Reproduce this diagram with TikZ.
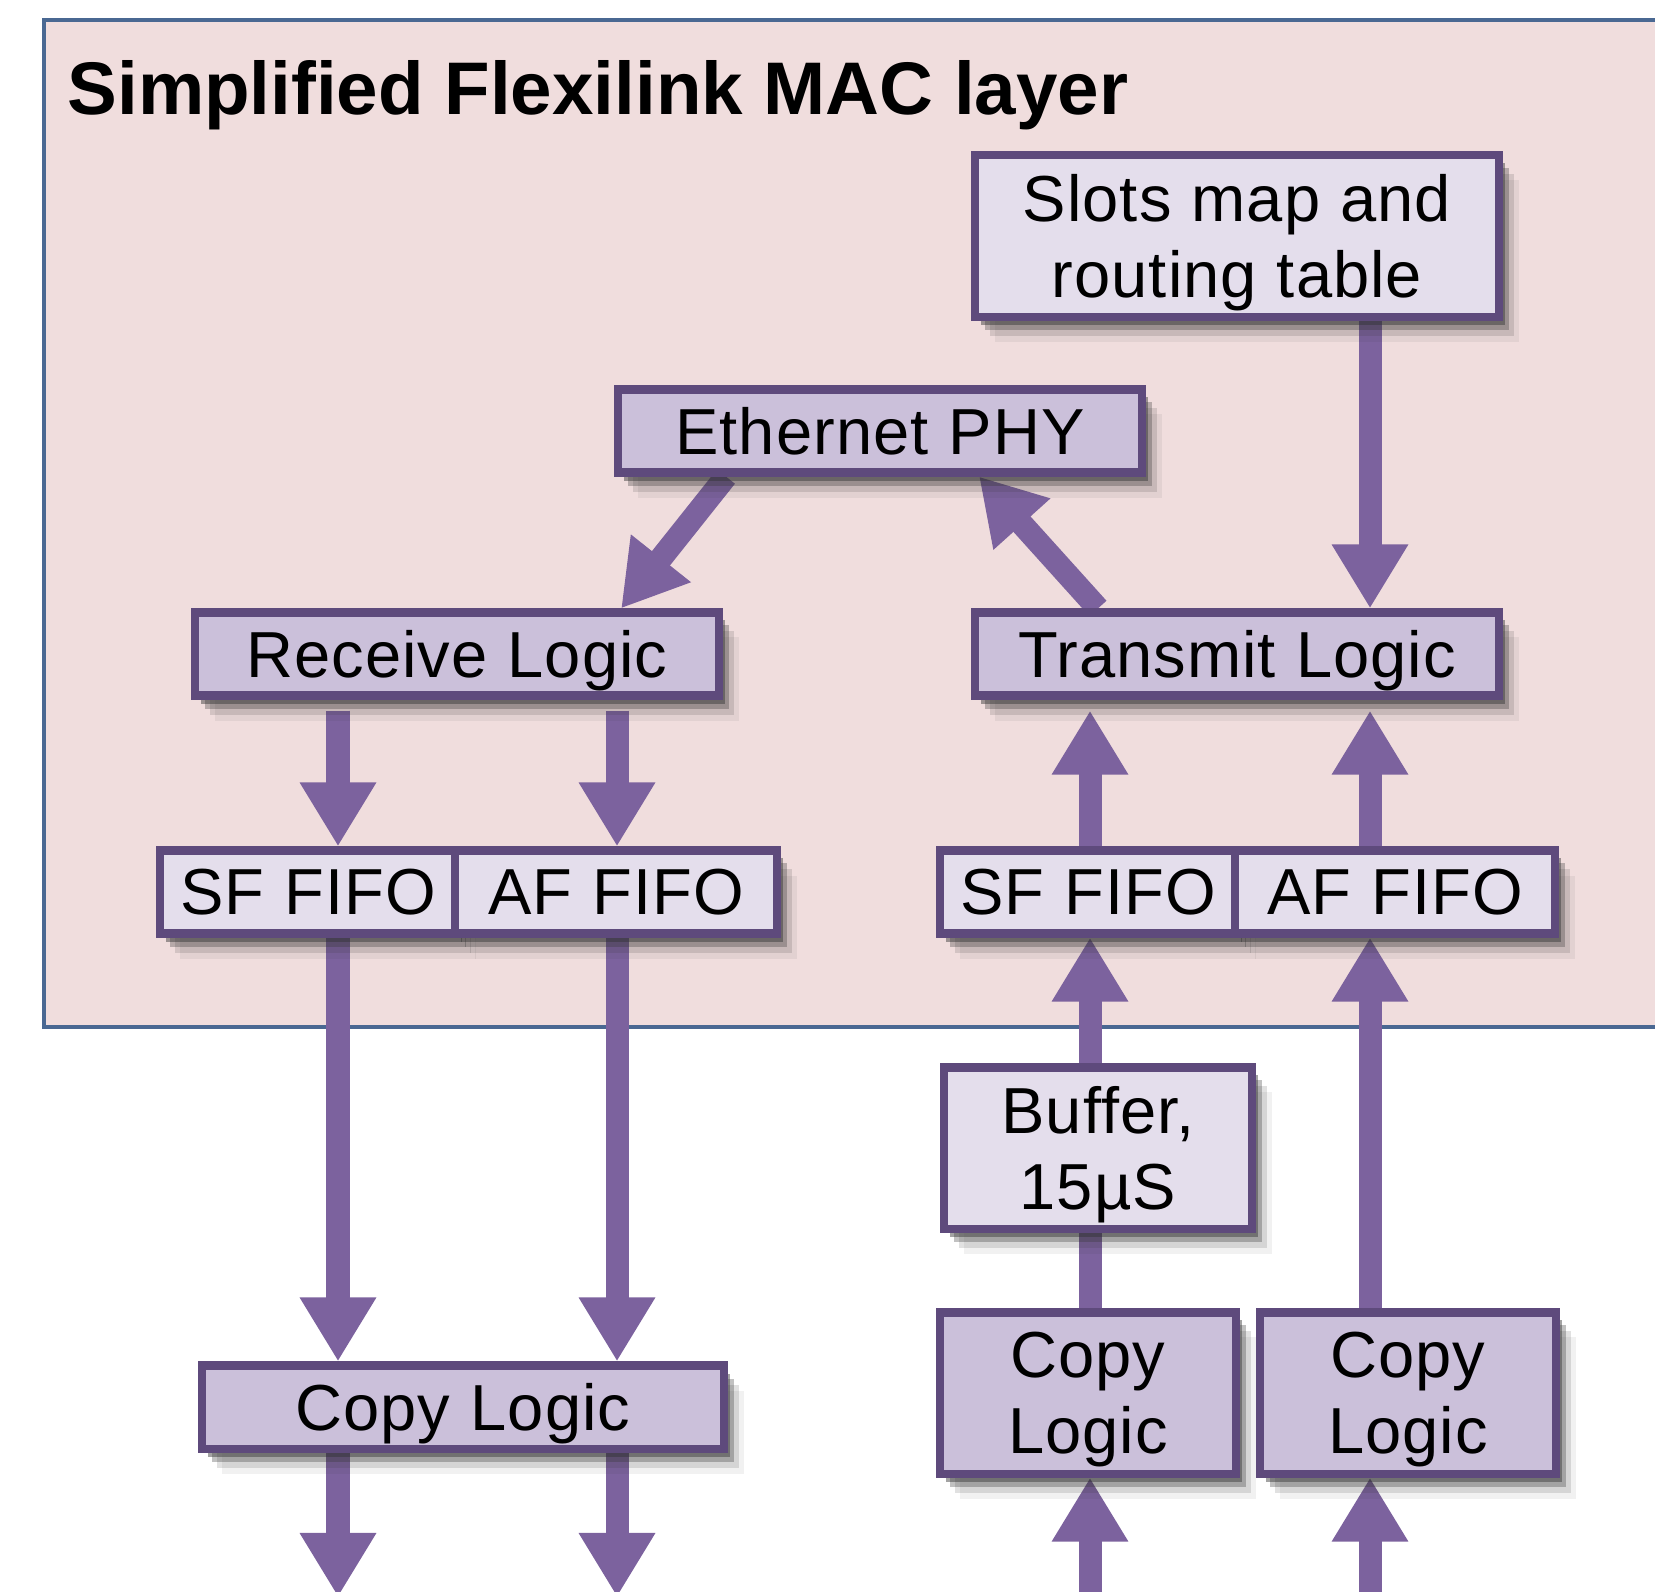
\documentclass[tikz,border=0pt]{standalone}
\usepackage{fontspec}
\setmainfont{Liberation Sans}
\newfontfamily\boxfont[LetterSpace=1.6,WordSpace=1.05]{Liberation Sans}
\usetikzlibrary{arrows.meta,shadows,backgrounds}

\definecolor{layerpink}{RGB}{240,221,221}
\definecolor{frameblue}{RGB}{74,104,146}
\definecolor{boxline}{RGB}{94,74,124}
\definecolor{flowcol}{RGB}{124,98,158}
\definecolor{lightfill}{RGB}{228,222,236}
\definecolor{midfill}{RGB}{203,192,218}

\tikzset{
  boxshadow/.style={
    drop shadow={shadow xshift=0.06cm,shadow yshift=-0.08cm,opacity=0.45,fill=black!80},
    drop shadow={shadow xshift=0.1cm,shadow yshift=-0.13cm,opacity=0.3,fill=black!80},
    drop shadow={shadow xshift=0.15cm,shadow yshift=-0.19cm,opacity=0.15,fill=black!80},
    drop shadow={shadow xshift=0.2cm,shadow yshift=-0.25cm,opacity=0.07,fill=black!80}},
  block/.style={draw=boxline,line width=2.3pt,align=center,inner sep=0pt,text depth=0pt,
    font=\boxfont\fontsize{18.5}{21.6}\selectfont,minimum width=5.23cm,minimum height=0.83cm,boxshadow},
  lightblock/.style={block,fill=lightfill},
  darkblock/.style={block,fill=midfill},
  flow/.style={draw=flowcol,line width=0.23cm,-{Triangle[width=0.72cm,length=0.64cm]}},
  link/.style={draw=flowcol,line width=0.23cm}
}

\begin{document}
\begin{tikzpicture}[x=0.01cm,y=-0.01cm]
\useasboundingbox (0,0) rectangle (1655,1591);
\coordinate (c1) at (338,0);
\coordinate (c2) at (617,0);
\coordinate (c3) at (1090,0);
\coordinate (c4) at (1370,0);
\coordinate (outA) at (338,1597);
\coordinate (outB) at (617,1597);
\coordinate (inA) at (1090,1600);
\coordinate (inB) at (1370,1600);

\node[anchor=base west,inner sep=0pt,font=\fontsize{21.2}{25}\selectfont\bfseries] (title) at (67,115) {Simplified Flexilink MAC layer};

\node[lightblock,minimum height=1.61cm] (slots) at (1237,236) {Slots map and\\routing table};% Top right
\node[darkblock] (phy) at (880,431) {Ethernet PHY};
\node[darkblock] (recv) at (457,654) {Receive Logic};
\node[darkblock] (xmit) at (1237,654) {Transmit Logic};
\node[lightblock,minimum width=2.96cm] (sfL) at (308,892) {SF FIFO};% Receive side
\node[lightblock,minimum width=3.21cm] (afL) at (616,892) {AF FIFO};
\node[lightblock,minimum width=2.95cm] (sfR) at (1088,892) {SF FIFO};% Transmit side
\node[lightblock,minimum width=3.20cm] (afR) at (1395,892) {AF FIFO};
\node[lightblock,minimum width=3.08cm,minimum height=1.61cm] (buf) at (1098,1148) {Buffer,\\15µS};
\node[darkblock,minimum width=5.22cm] (copyL) at (463,1407) {Copy Logic};
\node[darkblock,minimum width=2.96cm,minimum height=1.61cm] (copyA) at (1088,1393) {Copy\\Logic};
\node[darkblock,minimum width=2.95cm,minimum height=1.61cm] (copyB) at (1408,1393) {Copy\\Logic};

\begin{scope}[on background layer]
\fill[layerpink] (44,20) rectangle (1700,1027);% MAC layer area
\draw[frameblue,line width=1.2pt] (1700,20) -- (44,20) -- (44,1027) -- (1700,1027);
\draw[flow] ([xshift=-1.54cm]phy.south) -- ([xshift=1.64cm]recv.north);
\draw[flow] ([xshift=-1.39cm]xmit.north) -- ([xshift=0.99cm]phy.south);
\draw[flow] (slots.south -| c4) -- (xmit.north -| c4);
\draw[flow,shorten <=0.11cm] (recv.south -| c1) -- (sfL.north -| c1);
\draw[flow,shorten <=0.11cm] (recv.south -| c2) -- (afL.north -| c2);
\draw[flow] (sfL.south -| c1) -- (copyL.north -| c1);
\draw[flow] (afL.south -| c2) -- (copyL.north -| c2);
\draw[flow] (copyL.south -| c1) -- (outA);
\draw[flow] (copyL.south -| c2) -- (outB);
\draw[flow,shorten >=0.11cm] (sfR.north -| c3) -- (xmit.south -| c3);
\draw[flow,shorten >=0.11cm] (afR.north -| c4) -- (xmit.south -| c4);
\draw[flow] (buf.north -| c3) -- (sfR.south -| c3);
\draw[link] (copyA.north -| c3) -- (buf.south -| c3);
\draw[flow] (copyB.north -| c4) -- (afR.south -| c4);
\draw[flow] (inA) -- (copyA.south -| c3);
\draw[flow] (inB) -- (copyB.south -| c4);
\end{scope}
\end{tikzpicture}
\end{document}
